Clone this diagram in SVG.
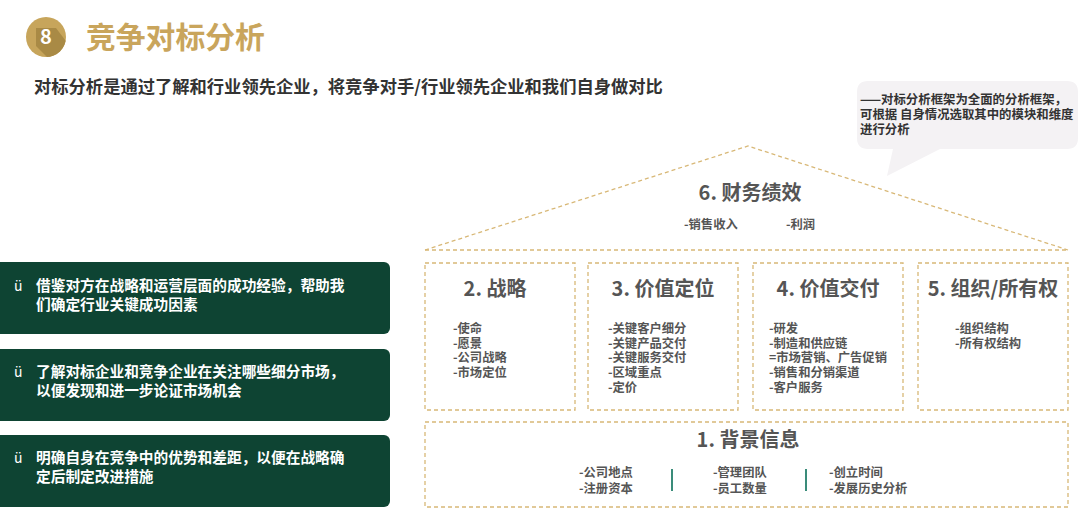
<svg xmlns="http://www.w3.org/2000/svg" width="1080" height="509" viewBox="0 0 1080 509">
<defs>
<style>
text{font-family:"Noto Sans CJK SC","Liberation Sans",sans-serif;font-weight:bold}
.dash{fill:none;stroke:#D8B877;stroke-width:1.3;stroke-dasharray:4 3}
.box-title{font-size:20px;fill:#555;text-anchor:middle}
.item{font-size:12.3px;fill:#555}
.gbox{fill:#0E4433}
.gtext{font-size:14.7px;fill:#fff}
.tick{font-size:14px;fill:#fff;font-weight:normal}
.divider{stroke:#3A8C7A;stroke-width:2}
</style>
<clipPath id="cc"><circle cx="46" cy="37" r="20"/></clipPath>
</defs>
<rect width="1080" height="509" fill="#fff"/>

<g id="header">
<circle cx="46" cy="37" r="20" fill="#C7A55B"/>
<polygon points="36,28 56,28 80,60 60,70 36,46" fill="#A98A45" clip-path="url(#cc)"/>
<text x="46" y="44" font-size="20" fill="#fff" text-anchor="middle" font-family="Liberation Sans, sans-serif">8</text>
<text x="86" y="48" font-size="29.8" fill="#C9A55C">竞争对标分析</text>
<text x="34" y="93" font-size="17.3" fill="#333">对标分析是通过了解和行业领先企业，将竞争对手/行业领先企业和我们自身做对比</text>
</g>

<g id="callout">
<path d="M868,81 H1067 Q1078,81 1078,92 V138 Q1078,149 1067,149 H940 L887,176 L893,149 H868 Q857,149 857,138 V92 Q857,81 868,81 Z" fill="#F4F2F4"/>
<text x="860" y="104" font-size="12.4" fill="#333">——对标分析框架为全面的分析框架，</text>
<text x="860" y="119" font-size="12.4" fill="#333">可根据 自身情况选取其中的模块和维度</text>
<text x="860" y="134" font-size="12.4" fill="#333">进行分析</text>
</g>

<g id="roof">
<polyline class="dash" points="425,250 748,146 1068,250"/>
<line class="dash" x1="425" y1="250" x2="1068" y2="250"/>
<text class="box-title" x="750" y="200">6. 财务绩效</text>
<text class="item" x="684" y="229">-销售收入</text>
<text class="item" x="786" y="229">-利润</text>
</g>

<g id="box2">
<rect class="dash" x="425" y="263" width="150" height="147"/>
<text class="box-title" x="495" y="296">2. 战略</text>
<text class="item" x="453" y="333">-使命</text>
<text class="item" x="453" y="348">-愿景</text>
<text class="item" x="453" y="362">-公司战略</text>
<text class="item" x="453" y="377">-市场定位</text>
</g>

<g id="box3">
<rect class="dash" x="588" y="263" width="150" height="147"/>
<text class="box-title" x="663" y="296">3. 价值定位</text>
<text class="item" x="608" y="333">-关键客户细分</text>
<text class="item" x="608" y="348">-关键产品交付</text>
<text class="item" x="608" y="362">-关键服务交付</text>
<text class="item" x="608" y="377">-区域重点</text>
<text class="item" x="608" y="392">-定价</text>
</g>

<g id="box4">
<rect class="dash" x="753" y="263" width="150" height="147"/>
<text class="box-title" x="828" y="296">4. 价值交付</text>
<text class="item" x="769" y="333">-研发</text>
<text class="item" x="769" y="348">-制造和供应链</text>
<text class="item" x="769" y="362">=市场营销、广告促销</text>
<text class="item" x="769" y="377">-销售和分销渠道</text>
<text class="item" x="769" y="392">-客户服务</text>
</g>

<g id="box5">
<rect class="dash" x="918" y="263" width="150" height="147"/>
<text class="box-title" x="993" y="296">5. 组织/所有权</text>
<text class="item" x="955" y="333">-组织结构</text>
<text class="item" x="955" y="348">-所有权结构</text>
</g>

<g id="box1">
<rect class="dash" x="425" y="422" width="643" height="85"/>
<text class="box-title" x="748" y="447">1. 背景信息</text>
<text class="item" x="579" y="477">-公司地点</text>
<text class="item" x="579" y="493">-注册资本</text>
<text class="item" x="713" y="477">-管理团队</text>
<text class="item" x="713" y="493">-员工数量</text>
<text class="item" x="829" y="477">-创立时间</text>
<text class="item" x="829" y="493">-发展历史分析</text>
</g>

<g id="connectors">
<line class="divider" x1="672" y1="469" x2="672" y2="491"/>
<line class="divider" x1="806" y1="469" x2="806" y2="491"/>
</g>

<g id="point1">
<rect class="gbox" x="-8" y="262" width="398" height="72" rx="6"/>
<text class="tick" x="14" y="291">ü</text>
<text class="gtext" x="36" y="291">借鉴对方在战略和运营层面的成功经验，帮助我</text>
<text class="gtext" x="36" y="310">们确定行业关键成功因素</text>
</g>
<g id="point2">
<rect class="gbox" x="-8" y="349" width="398" height="72" rx="6"/>
<text class="tick" x="14" y="377">ü</text>
<text class="gtext" x="36" y="377">了解对标企业和竞争企业在关注哪些细分市场，</text>
<text class="gtext" x="36" y="396">以便发现和进一步论证市场机会</text>
</g>
<g id="point3">
<rect class="gbox" x="-8" y="435" width="398" height="72" rx="6"/>
<text class="tick" x="14" y="463">ü</text>
<text class="gtext" x="36" y="463">明确自身在竞争中的优势和差距，以便在战略确</text>
<text class="gtext" x="36" y="482">定后制定改进措施</text>
</g>
</svg>
